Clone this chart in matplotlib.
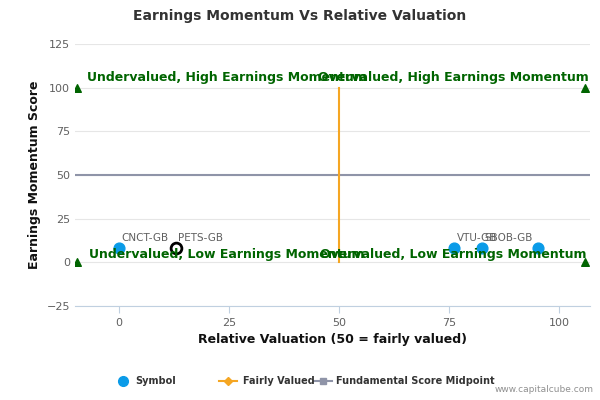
import matplotlib
matplotlib.use("Agg")
import matplotlib.pyplot as plt

symbols = ["CNCT-GB", "VTU-GB", "SBOB-GB", ""]
sym_x = [0.0, 76.2, 82.5, 95.3]
sym_y = [8.0, 8.0, 8.0, 8.0]
focus = "PETS-GB"; focus_x = 13.0; focus_y = 8.0
corner_x = [-9.5, -9.5, 106, 106]
corner_y = [0, 100, 0, 100]

fig = plt.figure(figsize=(6, 4), dpi=100)
ax = fig.add_axes([0.125, 0.235, 0.858, 0.655])
ax.set_xlim(-10, 107); ax.set_ylim(-25, 125)
ax.set_xticks([0, 25, 50, 75, 100]); ax.set_yticks([-25, 0, 25, 50, 75, 100, 125])
ax.grid(axis="y", color="#e6e6e6", lw=0.8)
for s in ["top", "right", "left"]: ax.spines[s].set_visible(False)
ax.spines["bottom"].set_color("#c0d0e0")
ax.tick_params(colors="#606060", labelsize=8, length=0)
ax.tick_params(axis="x", length=5, color="#c0d0e0")
ax.plot([-10, 107], [50, 50], color="#8f94a8", lw=1.5, zorder=2)
ax.plot([50, 50], [0, 100], color="#f5a623", lw=1.5, zorder=2)
ax.scatter(corner_x, corner_y, marker="^", color="#006400", s=30, zorder=3)
ax.scatter(sym_x, sym_y, color="#0a9be8", s=60, zorder=4)
ax.scatter([focus_x], [focus_y], facecolor="white", edgecolor="black", lw=2, s=60, zorder=5)
for n, x, y in zip(symbols, sym_x, sym_y):
    if n:
        ax.text(x + 0.5, y + 4, n, fontsize=7.5, color="#606060", zorder=6)
ax.text(focus_x + 0.5, focus_y + 4, focus, fontsize=7.5, color="#606060", zorder=6)
kw = dict(fontsize=9, color="#006400", fontweight="bold", ha="center", zorder=7)
ax.text(24.5, 104, "Undervalued, High Earnings Momentum", **kw)
ax.text(76, 104, "Overvalued, High Earnings Momentum", **kw)
ax.text(24.5, 2.5, "Undervalued, Low Earnings Momentum", **kw)
ax.text(76, 2.5, "Overvalued, Low Earnings Momentum", **kw)
ax.set_xlabel("Relative Valuation (50 = fairly valued)", fontsize=9, fontweight="bold", color="#111111")
ax.set_ylabel("Earnings Momentum Score", fontsize=9, fontweight="bold", color="#111111")
fig.text(0.5, 0.95, "Earnings Momentum Vs Relative Valuation", ha="center", fontsize=10, fontweight="bold", color="#333333")
ly = 0.047
fig.lines.append(plt.Line2D([0.205], [ly], marker="o", color="#0a9be8", ms=7, transform=fig.transFigure))
fig.text(0.225, ly, "Symbol", fontsize=7, fontweight="bold", va="center", color="#333333")
fig.lines.append(plt.Line2D([0.365, 0.395], [ly, ly], color="#f5a623", transform=fig.transFigure))
fig.lines.append(plt.Line2D([0.38], [ly], color="#f5a623", marker="D", ms=4, transform=fig.transFigure))
fig.text(0.405, ly, "Fairly Valued", fontsize=7, fontweight="bold", va="center", color="#333333")
fig.lines.append(plt.Line2D([0.523, 0.553], [ly, ly], color="#8f94a8", transform=fig.transFigure))
fig.lines.append(plt.Line2D([0.538], [ly], color="#8f94a8", marker="s", ms=5, transform=fig.transFigure))
fig.text(0.56, ly, "Fundamental Score Midpoint", fontsize=7, fontweight="bold", va="center", color="#333333")
fig.text(0.99, 0.02, "www.capitalcube.com", ha="right", fontsize=6.5, color="#909090")
fig.savefig("out.png")
